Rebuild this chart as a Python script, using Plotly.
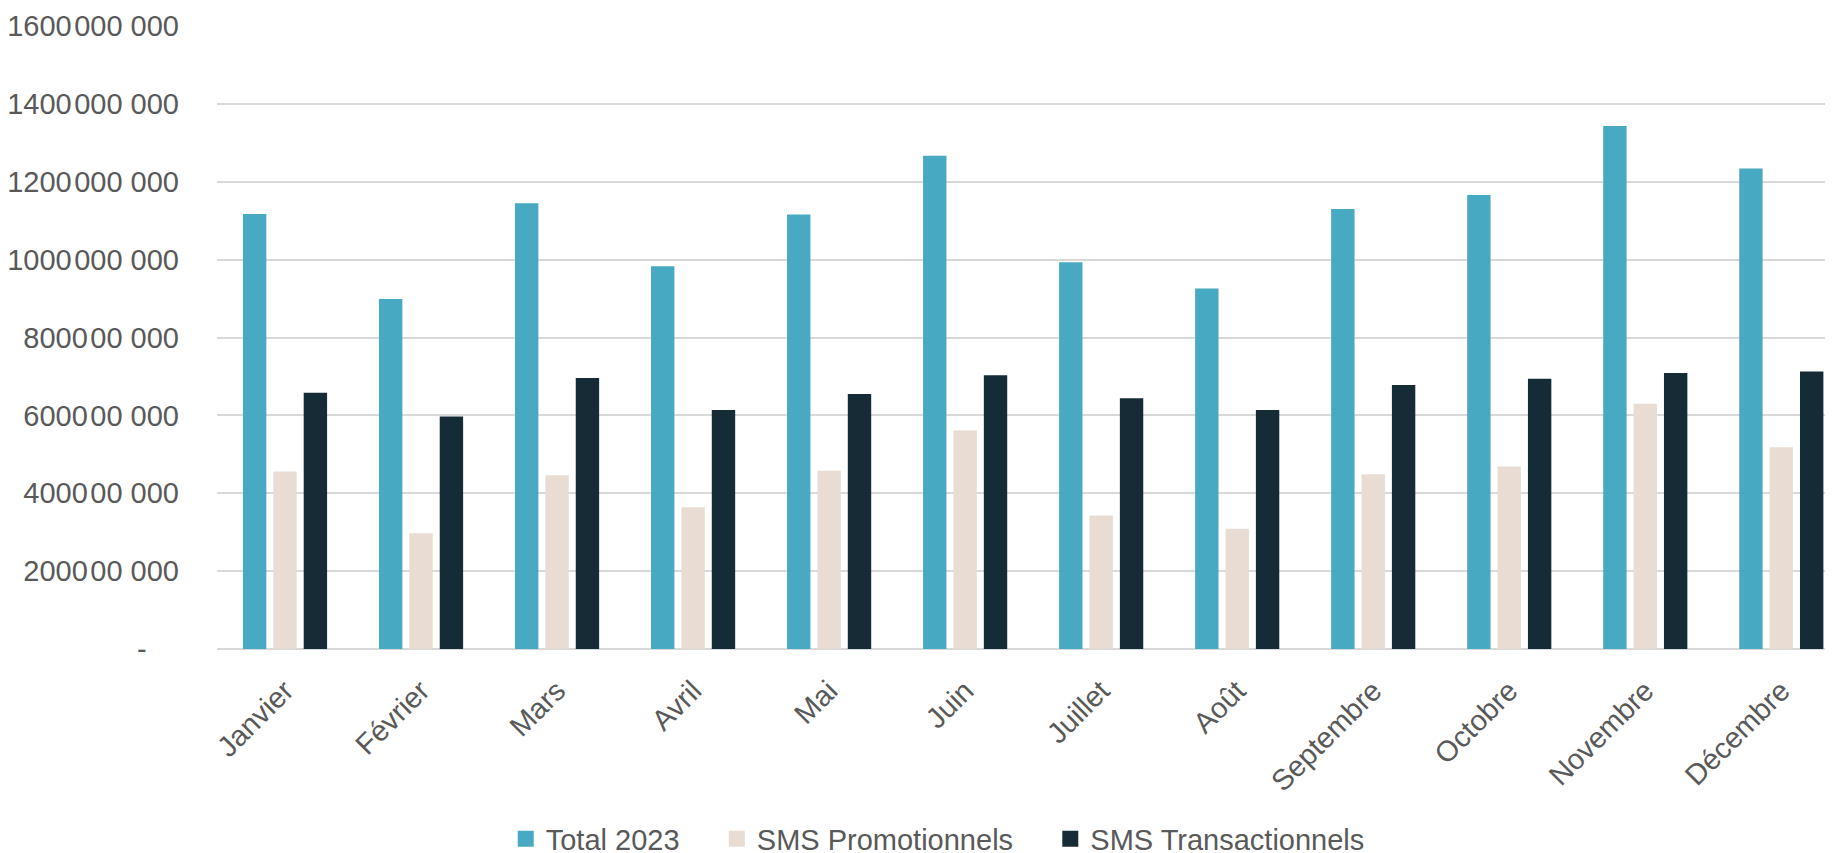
import plotly.graph_objects as go

months = ["Janvier", "Février", "Mars", "Avril", "Mai", "Juin", "Juillet",
          "Août", "Septembre", "Octobre", "Novembre", "Décembre"]
total_2023 = [1117e6, 899e6, 1145e6, 983e6, 1116e6, 1267e6, 993e6, 926e6,
              1130e6, 1166e6, 1343e6, 1234e6]
sms_promo = [456e6, 297e6, 446e6, 364e6, 458e6, 561e6, 343e6, 309e6,
             449e6, 469e6, 630e6, 518e6]
sms_trans = [658e6, 597e6, 696e6, 614e6, 655e6, 703e6, 644e6, 614e6,
             678e6, 694e6, 709e6, 713e6]
tick_vals = [0, 200e6, 400e6, 600e6, 800e6, 1000e6, 1200e6, 1400e6, 1600e6]
tick_text = ["-\u2007\u2007", "2000\u200a00 000", "4000\u200a00 000", "6000\u200a00 000",
             "8000\u200a00 000", "1000\u200a000 000", "1200\u200a000 000",
             "1400\u200a000 000", "1600\u200a000 000"]

names = ["Total 2023", "SMS Promotionnels", "SMS Transactionnels"]
legend_labels = ["Total 2023\u00a0\u00a0\u00a0\u00a0", "SMS Promotionnels\u00a0\u00a0\u00a0\u00a0",
                 "SMS Transactionnels"]
colors = ["#48AAC2", "#E8DCD3", "#152B36"]
series = [total_2023, sms_promo, sms_trans]

FONT = "Liberation Sans, Arial, sans-serif"
GREY = "#595959"

fig = go.Figure()
for name, col, vals in zip(names, colors, series):
    fig.add_trace(go.Bar(x=months, y=vals, name=name, marker_color=col,
                         marker_line_width=0, showlegend=False, legendgroup=name))
for name, label, col in zip(names, legend_labels, colors):
    fig.add_trace(go.Scatter(x=[None], y=[None], mode="markers", name=label,
                             marker=dict(symbol="square", size=17, color=col),
                             legendgroup=name, showlegend=True))

# page body has an 8px margin, so the figure is laid out shifted by 8px
fig.update_layout(
    width=1825, height=862,
    margin=dict(l=209, r=0, t=18, b=221, autoexpand=False),
    paper_bgcolor="white", plot_bgcolor="white",
    barmode="group", bargap=0.33, bargroupgap=0.23,
    font=dict(family=FONT, color=GREY, size=29),
    showlegend=True,
    legend=dict(orientation="h", x=0.446, xanchor="center", y=-0.305, yanchor="middle",
                font=dict(size=29, color=GREY), itemsizing="trace",
                tracegroupgap=0, itemwidth=30),
    xaxis=dict(range=[-0.5, 11.38], tickangle=-45, showgrid=False, showline=False,
               ticks="", tickfont=dict(size=29, color=GREY), ticklabelstandoff=18,
               automargin=False, fixedrange=True),
    yaxis=dict(range=[0, 1600e6], tickvals=tick_vals, ticktext=tick_text,
               showgrid=True, gridcolor="#D9D9D9", gridwidth=1.5,
               zeroline=True, zerolinecolor="#D9D9D9", zerolinewidth=2,
               showline=False, ticks="", ticklabelstandoff=37, automargin=False,
               tickfont=dict(size=29, color=GREY)),
)

fig.write_html("out.html")
